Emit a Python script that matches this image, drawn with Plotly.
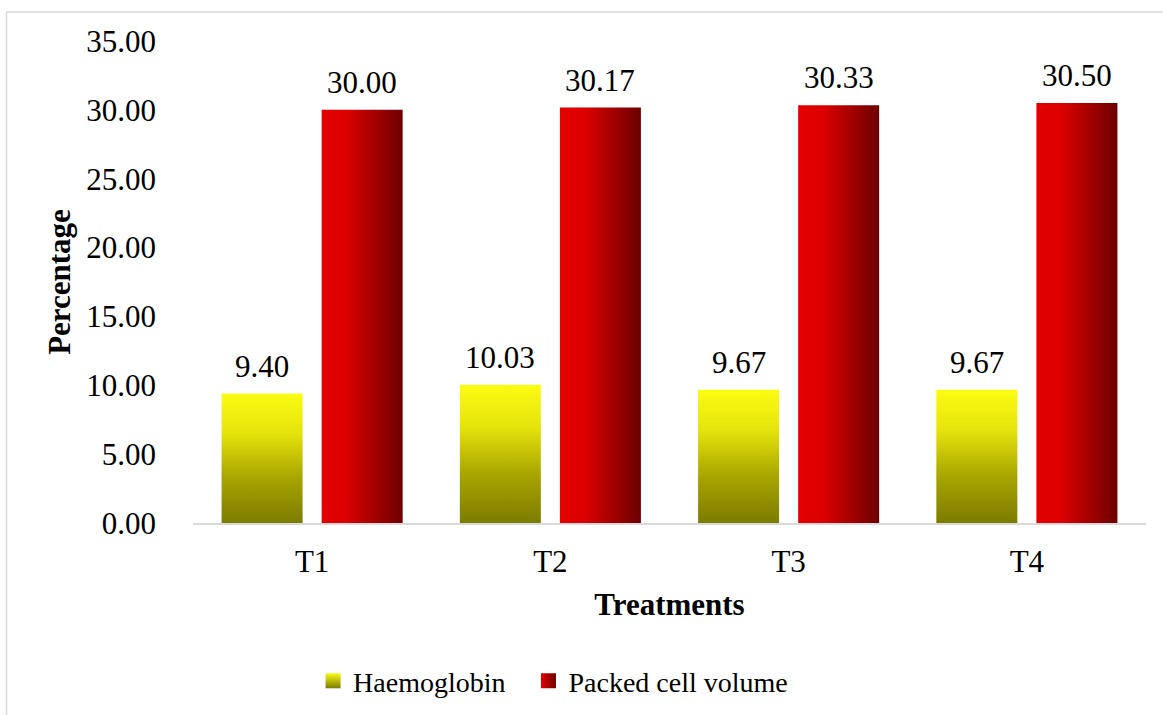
import plotly.graph_objects as go

# Data
treatments = ["T1", "T2", "T3", "T4"]
haemoglobin = [9.40, 10.03, 9.67, 9.67]
packed_cell_volume = [30.00, 30.17, 30.33, 30.50]
y_ticks = [0, 5, 10, 15, 20, 25, 30, 35]

FONT = "Liberation Serif"
BAR_W = 0.34      # bar width in category units
OFFSET = 0.21     # distance of each bar centre from the category centre

series = [
    dict(
        name="Haemoglobin",
        values=haemoglobin,
        offset=-OFFSET,
        gradient="vertical",
        colorscale=[[0.0, "#7c7c00"], [0.35, "#a8a500"], [0.7, "#e6e40c"], [1.0, "#fbfb12"]],
        legend_top="#fbfb12",
        legend_bottom="#7c7c00",
        legend_ref="legend",
        legend_x=0.126,
    ),
    dict(
        name="Packed cell volume",
        values=packed_cell_volume,
        offset=OFFSET,
        gradient="horizontal",
        colorscale=[[0.0, "#e30000"], [0.3, "#dd0000"], [0.65, "#a40000"], [1.0, "#6d0000"]],
        legend_top="#e30000",
        legend_bottom="#6d0000",
        legend_ref="legend2",
        legend_x=0.352,
    ),
]

fig = go.Figure()

for s in series:
    for i, v in enumerate(s["values"]):
        centre = i + s["offset"]
        left, right = centre - BAR_W / 2, centre + BAR_W / 2
        fig.add_trace(go.Scatter(
            x=[left, right, right, left, left],
            y=[0, 0, v, v, 0],
            mode="none",
            fill="toself",
            fillgradient=dict(type=s["gradient"], colorscale=s["colorscale"]),
            showlegend=False,
            hoverinfo="skip",
        ))
        fig.add_annotation(
            x=centre, y=v, text=f"{v:.2f}", showarrow=False,
            yanchor="bottom", yshift=8,
            font=dict(family=FONT, size=31, color="#000000"),
        )

# Legend entries, one legend box per series
legend_style = dict(orientation="h", y=-0.328, yanchor="middle", xanchor="left",
                    font=dict(family=FONT, size=28), bgcolor="rgba(0,0,0,0)", itemwidth=30)
for s in series:
    fig.add_trace(go.Scatter(
        x=[None], y=[None], mode="markers", name=s["name"], legend=s["legend_ref"],
        marker=dict(symbol="square", size=15, color=s["legend_top"],
                    gradient=dict(type=s["gradient"], color=s["legend_bottom"]),
                    line=dict(width=0)),
    ))

# Outer chart border
fig.add_shape(type="rect", xref="paper", yref="paper",
              x0=-0.1957, y0=1.060, x1=1.2, y1=-0.6,
              line=dict(color="#d9d9d9", width=1.5), fillcolor="rgba(0,0,0,0)", layer="below")

fig.update_layout(
    width=1163, height=715,
    margin=dict(l=193, r=17, t=41, b=192, autoexpand=False),
    paper_bgcolor="white", plot_bgcolor="white",
    font=dict(family=FONT, size=31, color="#000000"),
    showlegend=True,
    legend=dict(legend_style, x=series[0]["legend_x"]),
    legend2=dict(legend_style, x=series[1]["legend_x"]),
    xaxis=dict(
        range=[-0.5, 3.5], tickvals=list(range(len(treatments))), ticktext=treatments,
        showgrid=False, zeroline=False, showline=True, linecolor="#d9d9d9", linewidth=2,
        ticks="", ticklabelstandoff=10, automargin=False,
        title=dict(text="<b>Treatments</b>", font=dict(family=FONT, size=31), standoff=15),
        fixedrange=True,
    ),
    yaxis=dict(
        range=[0, 35], tickvals=y_ticks, tickformat=".2f",
        showgrid=False, zeroline=False, showline=False, ticks="",
        ticklabelstandoff=36, automargin=False,
        title=dict(text="<b>Percentage</b>", font=dict(family=FONT, size=31), standoff=6),
        fixedrange=True,
    ),
)

fig.write_html("out.html")
